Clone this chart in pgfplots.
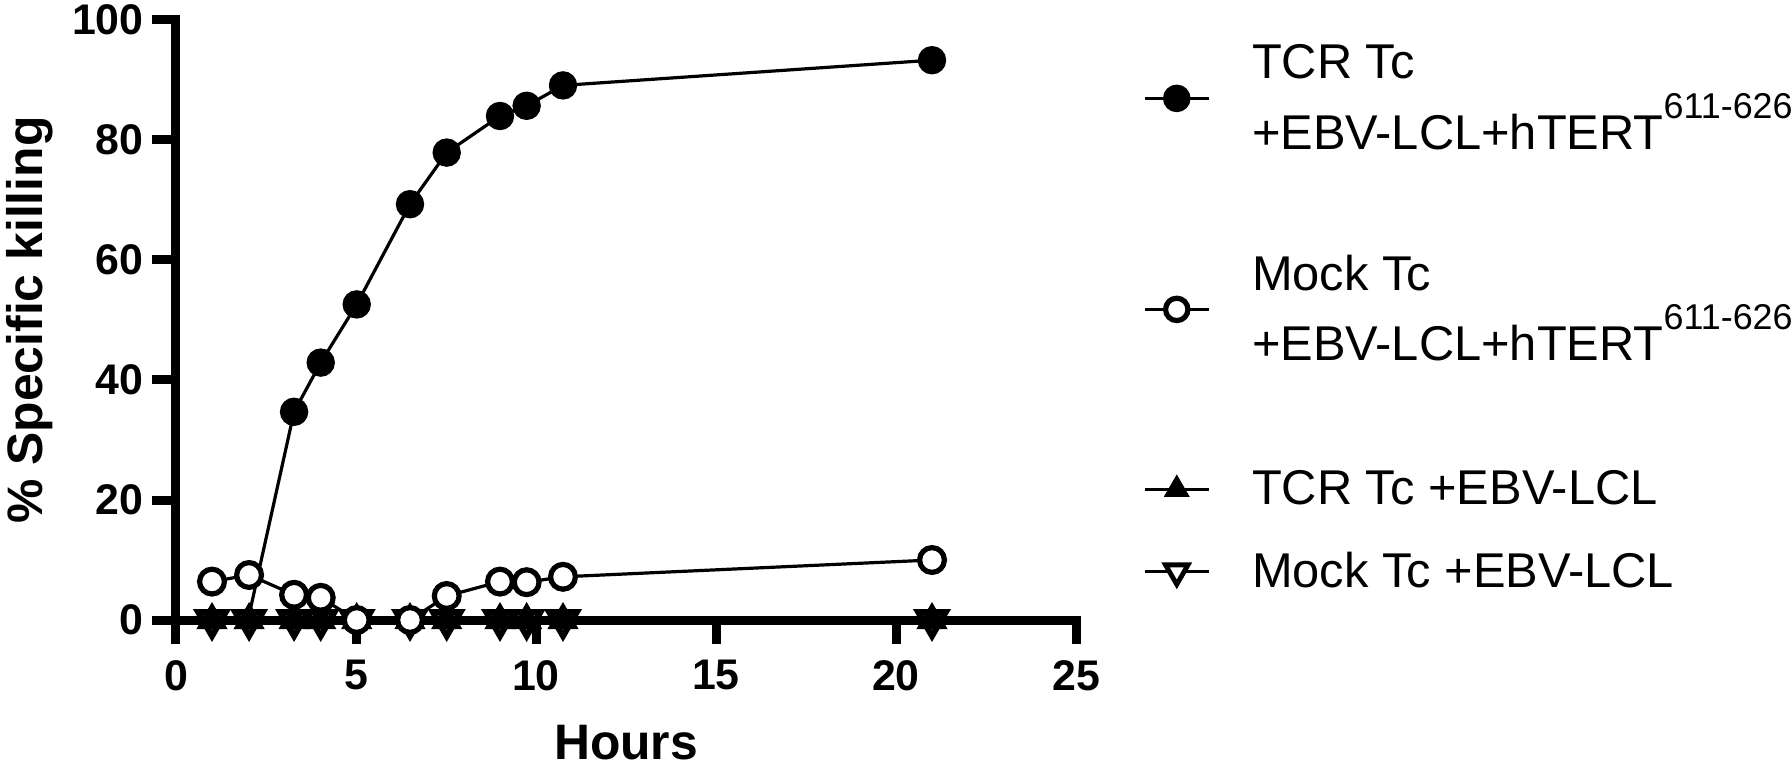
\documentclass[border=0pt]{standalone}
\usepackage{fontspec}
\setmainfont{Liberation Sans}
\usepackage{pgfplots}
\pgfplotsset{compat=1.18}

\pgfplotstableread{
x y
1 0
2 0
3.28 34.7
4.02 42.9
5.02 52.6
6.5 69.3
7.52 77.9
9.0 84.0
9.74 85.7
10.75 89.1
21.0 93.3
}\tcrpep
\pgfplotstableread{
x y
1 6.4
2.03 7.5
3.28 4.2
4.02 3.7
5.02 0
6.5 0
7.52 4.0
9.0 6.4
9.74 6.3
10.75 7.2
21.0 10.0
}\mockpep
\pgfplotstableread{
x y
1 0
2.03 0
3.28 0
4.02 0
5.02 0
6.5 0
7.52 0
9.0 0
9.74 0
10.75 0
21.0 0
}\tcrlcl
\pgfplotstableread{
x y
1 0
2.03 0
3.28 0
4.02 0
5.02 0
6.5 0
7.52 0
9.0 0
9.74 0
10.75 0
21.0 0
}\mocklcl

\begin{document}
\begin{tikzpicture}
\begin{axis}[
  width=450bp, height=300bp, scale only axis,
  xmin=0, xmax=25, ymin=0, ymax=100,
  clip=false,
  axis x line*=bottom, axis y line*=left,
  axis line style={line width=4.5bp, black},
  x axis line style={shorten <=-12bp, shorten >=-2.25bp},
  y axis line style={shorten <=-12bp, shorten >=-2.25bp},
  xtick={0,5,10,15,20,25}, ytick={0,20,40,60,80,100},
  minor tick num=0,
  tick align=outside, major tick length=12bp,
  tick style={line width=4.5bp, black},
  /pgf/number format/assume math mode=true,
  ticklabel style={font=\fontsize{21.5}{21.5}\selectfont\bfseries},
  xticklabel style={inner sep=0pt, anchor=north, yshift=-8bp},
  yticklabel style={inner sep=0pt, anchor=east, xshift=-4bp},
  xlabel={Hours},
  ylabel={\% Specific killing},
  label style={font=\fontsize{25}{25}\selectfont\bfseries},
  xlabel style={at={(axis description cs:0.5,0)}, anchor=base, inner sep=0pt, yshift=-69.5bp},
  ylabel style={at={(axis description cs:-0.189,0.5)}, anchor=north, inner sep=0pt, rotate=0},
  legend style={at={(1.0744,0.99)}, anchor=north west, draw=none, fill=none,
    inner sep=0pt, row sep=0pt, column sep=19bp,
    font=\fontsize{24.5}{35.5}\selectfont,
    cells={anchor=west, inner sep=0pt, align=left}},
  legend image code/.code={\draw[mark repeat=2,mark phase=2,#1] plot coordinates {(0bp,0bp)(16bp,0bp)(32bp,0bp)};},
]
\coordinate (O) at (rel axis cs:0,0);

% legend images in the order of the reference legend
\addlegendimage{black, line width=1.4bp, mark=*, mark size=6.2bp, mark options={solid, fill=black}}
\addlegendentry[minimum height=72bp]{TCR Tc\\+EBV-LCL+hTERT\raisebox{15.5bp}{\fontsize{18}{18}\selectfont 611-626}}
\addlegendimage{black, line width=1.4bp, mark=*, mark size=5.6bp, mark options={solid, fill=white, line width=2.6bp}}
\addlegendentry[minimum height=139bp]{Mock Tc\\+EBV-LCL+hTERT\raisebox{15.5bp}{\fontsize{18}{18}\selectfont 611-626}}
\addlegendimage{black, line width=1.4bp, mark=triangle*, mark size=7bp, mark options={solid, fill=black, line width=0.5bp}}
\addlegendentry[minimum height=41bp]{TCR Tc +EBV-LCL}
\addlegendimage{black, line width=1.4bp, mark=triangle*, mark size=6.5bp, mark options={solid, fill=white, line width=2.4bp, rotate=180}}
\addlegendentry[minimum height=41bp]{Mock Tc +EBV-LCL}

% data, drawn in the reference's stacking order
\addplot[forget plot, black, line width=1.6bp, mark=triangle*, mark size=8bp,
  mark options={solid, fill=white, line width=3bp, rotate=180}] table[x=x,y=y] {\mocklcl};
\addplot[forget plot, black, line width=1.6bp, mark=triangle*, mark size=8.5bp,
  mark options={solid, fill=black, line width=0.5bp}] table[x=x,y=y] {\tcrlcl};
\addplot[forget plot, black, line width=1.6bp, mark=*, mark size=6.2bp,
  mark options={solid, fill=white, line width=2.6bp}] table[x=x,y=y] {\mockpep};
\addplot[forget plot, black, line width=1.6bp, mark=*, mark size=6.3bp,
  mark indices={3,4,5,6,7,8,9,10,11},
  mark options={solid, fill=black}] table[x=x,y=y] {\tcrpep};
\end{axis}
\pgfresetboundingbox
\path[use as bounding box] (O) ++(-88bp,-74bp) rectangle ++(896bp,384bp);
\end{tikzpicture}
\end{document}
